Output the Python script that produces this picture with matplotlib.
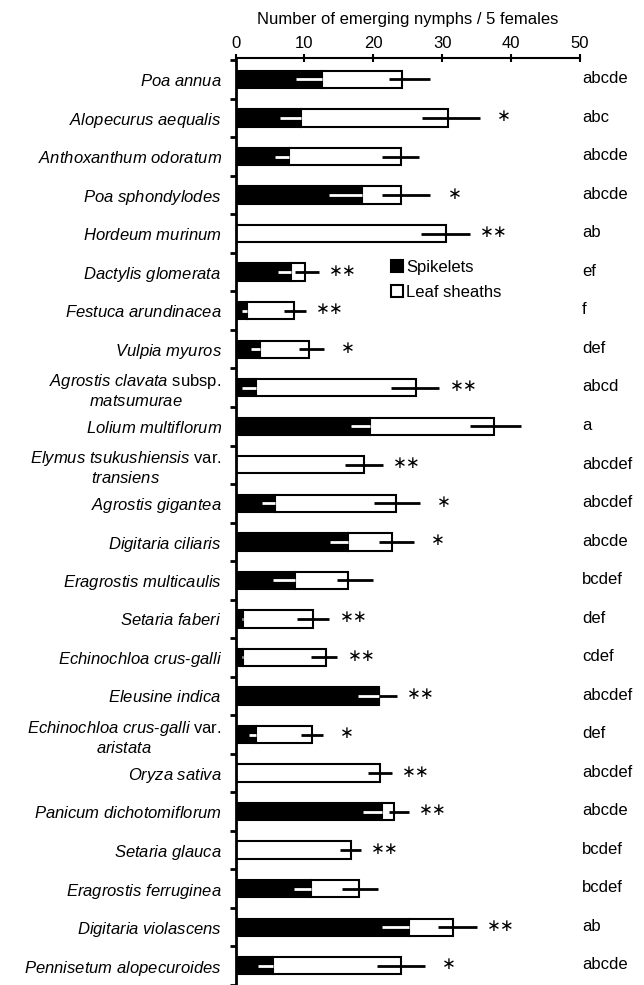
import matplotlib
matplotlib.use("Agg")
import matplotlib.pyplot as plt
from matplotlib.patches import Patch
import numpy as np

plt.rcParams['font.family'] = ['Liberation Sans', 'DejaVu Sans']
plt.rcParams['mathtext.fontset'] = 'custom'
plt.rcParams['mathtext.rm'] = 'Liberation Sans'
plt.rcParams['mathtext.it'] = 'Liberation Sans:italic'

# species labels (italic parts in mathtext)
species = [
    r"$\it{Poa\ annua}$",
    r"$\it{Alopecurus\ aequalis}$",
    r"$\it{Anthoxanthum\ odoratum}$",
    r"$\it{Poa\ sphondylodes}$",
    r"$\it{Hordeum\ murinum}$",
    r"$\it{Dactylis\ glomerata}$",
    r"$\it{Festuca\ arundinacea}$",
    r"$\it{Vulpia\ myuros}$",
    r"$\it{Agrostis\ clavata}$ subsp." + "\n" + r"$\it{matsumurae}$",
    r"$\it{Lolium\ multiflorum}$",
    r"$\it{Elymus\ tsukushiensis}$ var." + "\n" + r"$\it{transiens}$",
    r"$\it{Agrostis\ gigantea}$",
    r"$\it{Digitaria\ ciliaris}$",
    r"$\it{Eragrostis\ multicaulis}$",
    r"$\it{Setaria\ faberi}$",
    r"$\it{Echinochloa\ crus}$-$\it{galli}$",
    r"$\it{Eleusine\ indica}$",
    r"$\it{Echinochloa\ crus}$-$\it{galli}$ var." + "\n" + r"$\it{aristata}$",
    r"$\it{Oryza\ sativa}$",
    r"$\it{Panicum\ dichotomiflorum}$",
    r"$\it{Setaria\ glauca}$",
    r"$\it{Eragrostis\ ferruginea}$",
    r"$\it{Digitaria\ violascens}$",
    r"$\it{Pennisetum\ alopecuroides}$",
]

spikelets = [12.5, 9.5, 7.8, 18.4, 0.0, 8.0, 1.7, 3.5, 3.0, 19.5, 0.0, 5.7,
             16.3, 8.6, 1.1, 1.1, 20.8, 3.0, 0.0, 21.2, 0.0, 10.9, 25.2, 5.5]
spikelets_err = [3.7, 3.1, 2.1, 4.8, 0.0, 1.9, 0.8, 1.2, 2.0, 2.8, 0.0, 1.8,
                 2.6, 3.1, 0.2, 0.2, 3.0, 1.1, 0.0, 2.7, 0.0, 2.4, 4.0, 2.2]
# totals (spikelets + leaf sheaths)
totals = [24.1, 30.9, 24.0, 24.0, 30.6, 10.1, 8.5, 10.7, 26.2, 37.5, 18.7, 23.3,
          22.7, 16.3, 11.3, 13.1, 20.8, 11.1, 20.9, 23.0, 16.7, 17.9, 31.5, 24.0]
leaf_err_lo = [1.8, 3.8, 2.7, 2.7, 3.7, 1.5, 1.4, 1.5, 3.7, 3.4, 2.8, 3.2,
               1.9, 1.6, 2.4, 2.2, 0.0, 1.6, 1.7, 0.7, 1.5, 2.4, 2.1, 3.5]
leaf_err_hi = [4.1, 4.6, 2.6, 4.3, 3.4, 2.0, 1.7, 2.1, 3.4, 4.0, 2.7, 3.5,
               3.2, 3.6, 2.3, 1.7, 2.6, 1.6, 1.8, 2.2, 1.5, 2.8, 3.5, 3.5]
stars = ["", "*", "", "*", "**", "**", "**", "*", "**", "", "**", "*",
         "*", "", "**", "**", "**", "*", "**", "**", "**", "", "**", "*"]
groups = ["abcde", "abc", "abcde", "abcde", "ab", "ef", "f", "def", "abcd", "a",
          "abcdef", "abcdef", "abcde", "bcdef", "def", "cdef", "abcdef", "def",
          "abcdef", "abcde", "bcdef", "bcdef", "ab", "abcde"]

spikelets = np.array(spikelets)
totals = np.array(totals)
leaf = totals - spikelets
y = np.arange(len(species))

fig = plt.figure(figsize=(6.44, 9.85), dpi=100)
ax = fig.add_axes([0.3657, 0.0, 0.5349, 0.9411])

ax.barh(y, spikelets, height=0.45, color='black', edgecolor='black', linewidth=1.5, zorder=2)
ax.barh(y, leaf, left=spikelets, height=0.45, color='white', edgecolor='black', linewidth=1.5, zorder=2)

# spikelet error: only the minus side shows (white on black)
ax.errorbar(spikelets, y, xerr=[spikelets_err, np.zeros(len(y))], fmt='none',
            ecolor='white', elinewidth=2, capsize=0, zorder=3)
ax.errorbar(totals, y, xerr=[leaf_err_lo, leaf_err_hi], fmt='none',
            ecolor='black', elinewidth=2, capsize=0, zorder=4)

for i in range(len(y)):
    if stars[i]:
        ax.text(totals[i] + leaf_err_hi[i] + 3.5, y[i] - 0.04, stars[i].replace('*', '\u2217'),
                ha='center', va='center', fontsize=12, family='DejaVu Sans')
    ax.text(50.3, y[i] - 0.02, groups[i], ha='left', va='center', fontsize=12, clip_on=False)

ax.set_xlim(0, 50)
ax.set_ylim(23.41, -0.556)
ax.xaxis.tick_top()
ax.xaxis.set_label_position('top')
ax.set_xticks(range(0, 51, 10))
ax.set_xlabel("Number of emerging nymphs / 5 females", fontsize=12, labelpad=9)
ax.tick_params(axis='x', direction='inout', length=6, width=1.5, labelsize=12, pad=2)

ax.set_yticks(y)
ax.set_yticklabels(species, fontsize=12, multialignment='center')
ax.set_yticks(np.arange(-0.5, len(y), 1.0), minor=True)
ax.tick_params(axis='y', which='major', length=0, pad=10)
ax.tick_params(axis='y', which='minor', direction='out', length=4, width=2)

for s in ['right', 'bottom']:
    ax.spines[s].set_visible(False)
ax.spines['left'].set_linewidth(2)
ax.spines['top'].set_linewidth(1.5)

handles = [Patch(facecolor='black', edgecolor='black', linewidth=1.5, label='Spikelets'),
           Patch(facecolor='white', edgecolor='black', linewidth=1.5, label='Leaf sheaths')]
ax.legend(handles=handles, loc='upper left', bbox_to_anchor=(0.452, 0.782), frameon=False,
          fontsize=12, handlelength=0.7, handleheight=0.7, handletextpad=0.2,
          labelspacing=0.6, borderpad=0, borderaxespad=0)

fig.savefig("out.png", dpi=100)
